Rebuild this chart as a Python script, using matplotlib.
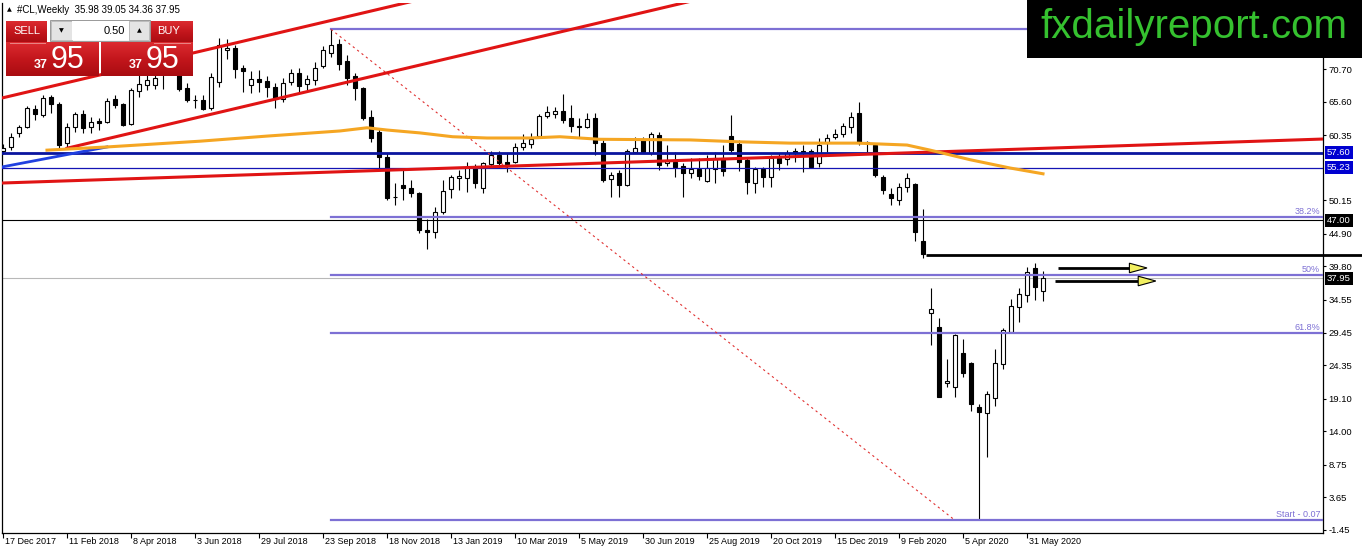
import matplotlib
matplotlib.use("Agg")
import matplotlib.pyplot as plt
import numpy as np
from matplotlib.patches import Rectangle, Polygon
from matplotlib.transforms import blended_transform_factory, ScaledTranslation
from matplotlib.colors import LinearSegmentedColormap

plt.rcParams["font.family"] = ["Liberation Sans", "DejaVu Sans"]

date_labels = ["17 Dec 2017", "11 Feb 2018", "8 Apr 2018", "3 Jun 2018", "29 Jul 2018",
               "23 Sep 2018", "18 Nov 2018", "13 Jan 2019", "10 Mar 2019", "5 May 2019",
               "30 Jun 2019", "25 Aug 2019", "20 Oct 2019", "15 Dec 2019", "9 Feb 2020",
               "5 Apr 2020", "31 May 2020"]

opens = [57.9, 58.5, 60.7, 61.6, 64.4, 63.5, 66.3, 65.2, 59.1, 61.6,
         63.7, 61.6, 62.6, 62.4, 66.0, 65.2, 62.1, 67.3, 68.2, 68.2,
         70.5, 71.5, 70.0, 67.7, 65.9, 65.9, 64.6, 68.7, 73.7, 74.0,
         70.9, 68.2, 69.1, 68.8, 67.9, 66.0, 68.7, 70.1, 68.4, 69.0,
         71.2, 73.2, 74.6, 72.0, 69.6, 67.7, 63.2, 60.8, 56.9, 50.6,
         52.5, 52.1, 51.3, 45.5, 45.2, 48.3, 51.9, 53.6, 53.6, 55.4,
         52.1, 55.8, 57.2, 56.2, 56.2, 58.5, 59.0, 60.2, 63.3, 63.7,
         64.1, 63.0, 61.8, 61.6, 63.0, 59.1, 53.5, 54.4, 52.5, 57.7,
         59.6, 57.6, 60.4, 56.0, 56.2, 55.5, 54.4, 55.1, 53.2, 55.1,
         56.8, 60.2, 59.0, 56.5, 52.9, 55.1, 53.8, 56.8, 56.6, 57.9,
         57.9, 57.9, 56.0, 59.1, 60.1, 60.5, 61.6, 63.8, 59.3, 58.8,
         53.8, 51.1, 50.2, 52.2, 52.7, 43.8, 32.5, 30.3, 21.6, 20.9,
         26.3, 24.7, 17.8, 16.9, 19.2, 24.5, 29.5, 33.5, 35.3, 39.6,
         35.98]
highs = [58.9, 60.7, 61.9, 64.9, 65.1, 66.6, 66.6, 65.5, 62.3, 64.0,
         64.3, 63.2, 63.0, 66.2, 66.6, 65.4, 67.7, 70.5, 71.0, 71.5,
         72.0, 72.8, 71.5, 68.5, 66.6, 66.6, 70.0, 75.6, 75.4, 74.5,
         71.3, 70.4, 70.5, 69.6, 68.5, 69.3, 70.7, 70.9, 69.8, 71.8,
         74.3, 76.9, 75.4, 72.9, 70.0, 67.9, 64.3, 61.5, 57.6, 52.9,
         54.9, 53.3, 51.5, 47.2, 49.1, 53.3, 54.1, 54.9, 56.2, 55.8,
         56.2, 57.9, 57.9, 57.6, 59.1, 60.5, 60.7, 63.7, 64.9, 64.8,
         66.8, 65.1, 63.0, 63.8, 63.8, 59.6, 54.6, 54.9, 58.2, 60.1,
         60.1, 60.8, 60.8, 58.8, 57.7, 56.0, 56.8, 56.8, 57.2, 57.7,
         58.8, 63.5, 59.6, 56.8, 55.4, 55.4, 57.2, 57.6, 58.0, 58.3,
         58.8, 58.2, 59.9, 60.5, 61.3, 62.3, 64.0, 65.5, 59.4, 59.0,
         54.1, 52.1, 52.9, 54.4, 52.8, 48.8, 36.4, 31.7, 25.3, 29.2,
         28.4, 24.9, 18.3, 20.3, 26.9, 30.2, 34.7, 36.4, 39.7, 40.3,
         39.05]
lows = [57.4, 58.0, 60.1, 61.5, 62.7, 63.2, 63.8, 58.0, 58.3, 60.8,
        60.7, 60.7, 61.2, 62.3, 64.6, 61.8, 61.9, 66.3, 67.4, 67.5,
        67.6, 69.9, 67.3, 65.5, 64.6, 64.3, 64.3, 67.9, 72.3, 69.3,
        67.1, 66.9, 67.1, 66.3, 64.6, 65.5, 68.2, 67.1, 67.4, 68.2,
        70.9, 72.6, 70.5, 68.2, 65.9, 62.7, 59.3, 55.2, 50.2, 49.4,
        50.2, 50.7, 45.0, 42.5, 44.3, 48.0, 50.5, 51.8, 51.5, 52.1,
        51.3, 55.4, 55.2, 54.6, 56.0, 58.0, 58.3, 60.1, 63.0, 63.0,
        62.3, 60.8, 60.1, 61.5, 57.2, 53.0, 50.7, 50.7, 52.4, 57.6,
        57.5, 57.2, 54.9, 55.5, 53.8, 50.7, 53.6, 53.3, 53.0, 52.9,
        54.0, 57.7, 54.7, 51.1, 51.3, 52.2, 52.2, 54.9, 55.7, 56.2,
        54.6, 55.2, 55.4, 57.7, 59.7, 60.1, 60.7, 58.8, 57.7, 53.8,
        51.1, 49.4, 49.4, 51.5, 43.8, 41.1, 27.5, 19.3, 20.9, 19.4,
        22.5, 17.2, 0.07, 10.0, 18.0, 23.7, 29.4, 31.1, 34.2, 34.5,
        34.36]
closes = [58.4, 60.1, 61.6, 64.6, 63.7, 66.2, 65.2, 58.8, 61.6, 63.7,
          61.5, 62.4, 62.3, 65.7, 65.1, 61.9, 67.4, 68.4, 69.0, 69.3,
          70.9, 71.0, 67.6, 65.9, 65.8, 64.4, 69.5, 74.5, 74.0, 70.7,
          70.4, 69.1, 68.7, 67.9, 66.0, 68.5, 70.1, 68.0, 69.1, 70.9,
          73.7, 74.5, 71.5, 69.3, 67.7, 63.0, 59.9, 56.9, 50.5, 50.7,
          52.1, 51.3, 45.5, 45.2, 48.3, 51.6, 53.8, 54.0, 55.4, 52.9,
          56.0, 57.2, 56.0, 55.8, 58.5, 59.1, 59.7, 63.3, 64.0, 64.1,
          62.7, 61.8, 61.6, 62.9, 59.1, 53.3, 54.1, 52.5, 57.9, 58.3,
          57.7, 60.5, 55.7, 56.3, 55.4, 54.4, 55.1, 53.9, 55.2, 56.8,
          54.7, 58.0, 56.2, 53.0, 55.1, 53.8, 56.8, 56.0, 57.6, 57.5,
          57.7, 55.4, 58.8, 59.9, 60.5, 61.8, 63.2, 59.3, 59.1, 54.1,
          51.8, 50.5, 52.2, 53.6, 45.2, 41.8, 33.1, 19.4, 21.9, 29.1,
          23.1, 18.3, 17.0, 19.8, 24.7, 29.9, 33.6, 35.5, 38.9, 36.6,
          37.95]

# moving average (orange), read at a few weeks
ma_idx = [5.5, 13, 24.6, 33, 42.1, 45.5, 48, 52.1, 56.2, 60.5, 65.9, 69.6,
          74.6, 85.9, 92.1, 98.4, 106.75, 113, 115.9, 120.9, 125.9, 130]
ma_vals = [58.0, 58.5, 59.4, 60.2, 61.0, 61.5, 61.15, 60.7, 60.1, 59.9, 59.9, 60.1,
           59.7, 59.6, 59.3, 59.1, 59.1, 58.8, 58.0, 56.5, 55.2, 54.3]

ytick_vals = [70.70, 65.60, 60.35, 50.15, 44.90, 39.80, 34.55, 29.45, 24.35,
              19.10, 14.00, 8.75, 3.65, -1.45]

symbol = "#CL,Weekly"
last_ohlc = "35.98 39.05 34.36 37.95"
bid_big, bid_small = "95", "37"

level_blue_thick = 57.60
level_blue_thin = 55.23
level_black = 47.00
level_last = 37.95
level_resist = 41.6

fib_high, fib_low = 76.90, 0.07
fib_ratios = [0.382, 0.5, 0.618]
fib_names = ["38.2%", "50%", "61.8%"]
fib_start_idx, fib_end_idx = 41, 119

# trend lines: pairs of (week index, price)
channel_upper = [(0, 66.2), (60, 83.9)]
channel_lower = [(8, 58.3), (90, 82.5)]
long_red = [(0, 52.86), (165, 59.74)]
blue_diag = [(0, 55.4), (13, 58.5)]

# --- figure ---
W, H = 1362, 554
fig = plt.figure(figsize=(W / 100, H / 100), dpi=100)
fig.patch.set_facecolor("white")
ax = fig.add_axes([2 / W, 21 / H, 1321 / W, 530 / H])
ax.set_xlim(-0.125, 165.0)
ax.set_ylim(-1.92, 81.03)

idx = np.arange(len(opens))
o = np.array(opens)
c = np.array(closes)
up = c >= o

# candles
ax.vlines(idx, lows, highs, color="black", lw=0.8, zorder=3)
body_bot = np.minimum(o, c)
body_h = np.maximum(np.abs(c - o), 0.12)
ax.bar(idx, body_h, 0.62, bottom=body_bot,
       color=np.where(up, "white", "black"), edgecolor="black", linewidth=0.8, zorder=4)

# horizontal levels
ax.axhline(level_blue_thick, color="#0A149E", lw=2.0, zorder=5)
ax.axhline(level_blue_thin, color="#1414B4", lw=0.9, zorder=5)
ax.axhline(level_black, color="black", lw=0.8, zorder=5)
ax.axhline(level_last, color="#B8B8B8", lw=0.8, zorder=2)
ax.plot([115.4, 169.9], [level_resist, level_resist], color="black", lw=2.0,
        zorder=6, clip_on=False, solid_capstyle="butt")

# fibonacci
fib_col = "#7D70D4"
fib_levels = [fib_high] + [fib_high - r * (fib_high - fib_low) for r in fib_ratios] + [fib_low]
for lv in fib_levels:
    ax.plot([fib_start_idx, 170], [lv, lv], color=fib_col, lw=1.6, zorder=5)
ax.plot([fib_start_idx, fib_end_idx], [fib_high, fib_low], color="#E03030", lw=0.8,
        linestyle=(0, (2, 3)), zorder=5)
lab_tr = blended_transform_factory(ax.transAxes, ax.transData) + \
    ScaledTranslation(-3 / 100, 1 / 100, fig.dpi_scale_trans)
for lv, name in zip(fib_levels[1:-1], fib_names):
    ax.text(1.0, lv, name, transform=lab_tr, ha="right", va="bottom",
            fontsize=6.5, color=fib_col, zorder=7)
ax.text(1.0, fib_low, f"Start - {fib_low:.2f}", transform=lab_tr, ha="right",
        va="bottom", fontsize=6.5, color=fib_col, zorder=7)

# trend lines and moving average
for (x0, y0), (x1, y1) in [channel_upper, channel_lower, long_red]:
    ax.plot([x0, x1], [y0, y1], color="#E01414", lw=2.2, zorder=6)
ax.plot(*zip(*blue_diag), color="#2040E0", lw=2.0, zorder=6)
ax.plot(ma_idx, ma_vals, color="#F5A623", lw=2.2, zorder=6)

# arrows
for x0, x1, xt, yv in [(131.9, 140.8, 143.0, 39.56), (131.5, 141.9, 144.1, 37.52)]:
    ax.plot([x0, x1], [yv, yv], color="black", lw=2.0, zorder=7, solid_capstyle="butt")
    ax.add_patch(Polygon([(x1, yv + 0.75), (xt, yv), (x1, yv - 0.75)], closed=True,
                         fc="#F2F060", ec="black", lw=0.8, zorder=8))

# axes styling
for s in ["top"]:
    ax.spines[s].set_visible(False)
for s in ["left", "right", "bottom"]:
    ax.spines[s].set_linewidth(0.9)
ax.yaxis.tick_right()
ax.set_yticks(ytick_vals)
ax.set_yticklabels([f"{v:.2f}" for v in ytick_vals])
ax.tick_params(axis="y", direction="out", length=2.5, width=0.8, pad=1.5, labelsize=6.8)
ax.set_xticks(range(0, 8 * len(date_labels), 8))
ax.set_xticklabels([""] * len(date_labels))
ax.tick_params(axis="x", direction="out", length=3.5, width=0.8)
xl_tr = blended_transform_factory(ax.transData, ax.transAxes) + \
    ScaledTranslation(2 / 100, -4 / 100, fig.dpi_scale_trans)
for k, lab in enumerate(date_labels):
    ax.text(8 * k, 0, lab, transform=xl_tr, ha="left", va="top", fontsize=6.5)

# price boxes on the right scale
box_tr = blended_transform_factory(ax.transAxes, ax.transData) + \
    ScaledTranslation(4 / 100, 0, fig.dpi_scale_trans)
for lv, col in [(level_blue_thick, "#0000D0"), (level_blue_thin, "#0000D0"),
                (level_black, "black"), (level_last, "black")]:
    ax.text(1.0, lv, f"{lv:.2f}", transform=box_tr, ha="left", va="center",
            fontsize=6.8, color="white", clip_on=False, zorder=20,
            bbox=dict(boxstyle="square,pad=0.22", fc=col, ec="none"))

# --- overlay in pixel coordinates: header, trade panel, logo ---
ov = fig.add_axes([0, 0, 1, 1], zorder=10)
ov.set_axis_off()
ov.patch.set_alpha(0)

red_cmap = LinearSegmentedColormap.from_list("btn", ["#DC2B30", "#C3161C", "#A90C11"])
grad = np.linspace(0, 1, 64).reshape(-1, 1)


def grad_rect(x0, y0, x1, y1):
    ov.imshow(grad, cmap=red_cmap, aspect="auto", extent=(x0, x1, y1, y0),
              interpolation="bicubic", zorder=11)


grad_rect(6, 21, 47, 43)
grad_rect(6, 42, 99, 76)
grad_rect(150, 21, 193, 43)
grad_rect(101, 42, 193, 76)
ov.plot([10, 45], [42.5, 42.5], color="#E98585", lw=0.7, zorder=12)
ov.plot([154, 190], [42.5, 42.5], color="#E98585", lw=0.7, zorder=12)
ov.add_patch(Rectangle((50, 20), 100, 21, fc="#F3F3F3", ec="#9A9A9A", lw=0.7, zorder=11))
ov.add_patch(Rectangle((51, 21), 21, 19, fc="#E4E4E4", ec="#B5B5B5", lw=0.6, zorder=12))
ov.add_patch(Rectangle((129, 21), 20, 19, fc="#E4E4E4", ec="#B5B5B5", lw=0.6, zorder=12))
ov.add_patch(Rectangle((72, 21), 57, 19, fc="white", ec="none", zorder=12))
ov.text(61.5, 30.5, "▼", fontsize=4.5, ha="center", va="center", family="DejaVu Sans", zorder=13)
ov.text(139, 30.5, "▲", fontsize=4.5, ha="center", va="center", family="DejaVu Sans", zorder=13)
ov.text(125, 30.5, "0.50", fontsize=8, ha="right", va="center", zorder=13)
ov.text(13, 31, "SELL", fontsize=8, color="white", ha="left", va="center", zorder=13)
ov.text(157, 31, "BUY", fontsize=8, color="white", ha="left", va="center", zorder=13)
for xs, xb in [(34, 51), (129, 146)]:
    ov.text(xs, 68, bid_small, fontsize=9, color="white", fontweight="bold",
            ha="left", va="baseline", zorder=13)
    ov.text(xb, 68.5, bid_big, fontsize=22, color="white", ha="left", va="baseline", zorder=13)

ov.text(7, 10, "▲", fontsize=4.5, ha="left", va="center", family="DejaVu Sans", zorder=13)
ov.text(17, 10, f"{symbol}  {last_ohlc}", fontsize=7, ha="left", va="center", zorder=13)

ov.add_patch(Rectangle((1027, 0), 335, 58, fc="black", ec="none", zorder=11))
ov.text(1194, 27, "fxdailyreport.com", fontsize=29, color="#35C12F",
        ha="center", va="center", zorder=12)

ov.set_xlim(0, W)
ov.set_ylim(H, 0)

fig.savefig("out.png", dpi=100)
